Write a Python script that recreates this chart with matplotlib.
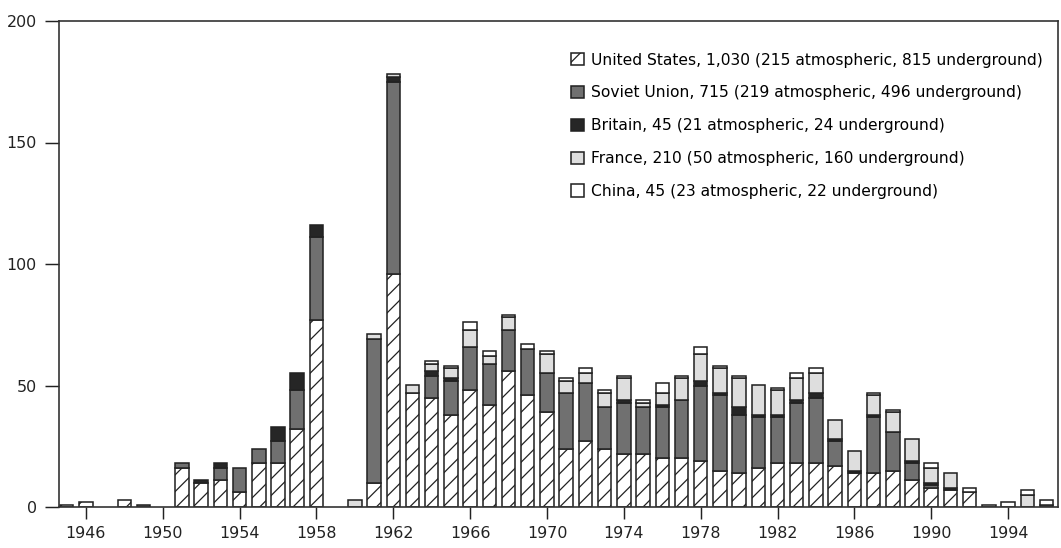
import numpy as np
import matplotlib.pyplot as plt

# nuclear tests per year (stack order bottom -> top)
years = list(range(1945, 1997))
united_states = [1, 2, 0, 3, 0, 0, 16, 10, 11, 6, 18, 18, 32, 77, 0, 0, 10, 96, 47, 45,
                 38, 48, 42, 56, 46, 39, 24, 27, 24, 22, 22, 20, 20, 19, 15, 14, 16, 18,
                 18, 18, 17, 14, 14, 15, 11, 8, 7, 6, 0, 0, 0, 0]
soviet_union = [0, 0, 0, 0, 1, 0, 2, 0, 5, 10, 6, 9, 16, 34, 0, 0, 59, 79, 0, 9,
                14, 18, 17, 17, 19, 16, 23, 24, 17, 21, 19, 21, 24, 31, 31, 24, 21, 19,
                25, 27, 10, 0, 23, 16, 7, 1, 0, 0, 0, 0, 0, 0]
britain = [0, 0, 0, 0, 0, 0, 0, 1, 2, 0, 0, 6, 7, 5, 0, 0, 0, 2, 0, 2,
           1, 0, 0, 0, 0, 0, 0, 0, 0, 1, 0, 1, 0, 2, 1, 3, 1, 1,
           1, 2, 1, 1, 1, 0, 1, 1, 1, 0, 0, 0, 0, 0]
france = [0, 0, 0, 0, 0, 0, 0, 0, 0, 0, 0, 0, 0, 0, 0, 3, 2, 1, 3, 3,
          4, 7, 3, 5, 0, 8, 5, 4, 6, 9, 2, 5, 9, 11, 10, 12, 12, 10,
          9, 8, 8, 8, 8, 8, 9, 6, 6, 0, 0, 0, 5, 1]
china = [0, 0, 0, 0, 0, 0, 0, 0, 0, 0, 0, 0, 0, 0, 0, 0, 0, 0, 0, 1,
         1, 3, 2, 1, 2, 1, 1, 2, 1, 1, 1, 4, 1, 3, 1, 1, 0, 1,
         2, 2, 0, 0, 1, 1, 0, 2, 0, 2, 1, 2, 2, 2]

labels = ['United States, 1,030 (215 atmospheric, 815 underground)',
          'Soviet Union, 715 (219 atmospheric, 496 underground)',
          'Britain, 45 (21 atmospheric, 24 underground)',
          'France, 210 (50 atmospheric, 160 underground)',
          'China, 45 (23 atmospheric, 22 underground)']

x_ticks = list(range(1946, 1995, 4))
y_ticks = [0, 50, 100, 150, 200]

plt.rcParams['font.family'] = 'DejaVu Sans'
plt.rcParams['hatch.linewidth'] = 0.6

DPI = 150
fig = plt.figure(figsize=(1061 / DPI, 548 / DPI), dpi=DPI)
ax = fig.add_axes([59 / 1061, 41 / 548, 999 / 1061, 486 / 548])

series = [united_states, soviet_union, britain, france, china]
colors = ['white', '#707070', '#262626', '#dedede', 'white']
hatches = ['///', None, None, None, None]

yrs = np.array(years)
bottom = np.zeros(len(yrs))
for vals, col, hat, lab in zip(series, colors, hatches, labels):
    vals = np.array(vals, dtype=float)
    m = vals > 0
    ax.bar(yrs[m], vals[m], width=0.7, bottom=bottom[m], color=col,
           edgecolor='#222222', linewidth=0.75, hatch=hat, label=lab)
    bottom += vals

ax.set_xlim(1944.6, 1996.6)
ax.set_ylim(0, 200)
ax.set_xticks(x_ticks)
ax.set_yticks(y_ticks)
ax.tick_params(axis='x', direction='out', length=5.8, width=0.7, pad=3.5,
               labelsize=7.6, colors='#222222')
ax.tick_params(axis='y', direction='out', length=6.8, width=0.7, pad=4,
               labelsize=7.6, colors='#222222')
for s in ax.spines.values():
    s.set_linewidth(0.8)
    s.set_color('#333333')

ax.legend(loc='upper left', bbox_to_anchor=(0.5125, 0.935), frameon=False,
          fontsize=7.45, handlelength=0.85, handleheight=0.85, handletextpad=0.45,
          labelspacing=1.15, borderaxespad=0, borderpad=0)

fig.savefig('out.png', dpi=DPI)
